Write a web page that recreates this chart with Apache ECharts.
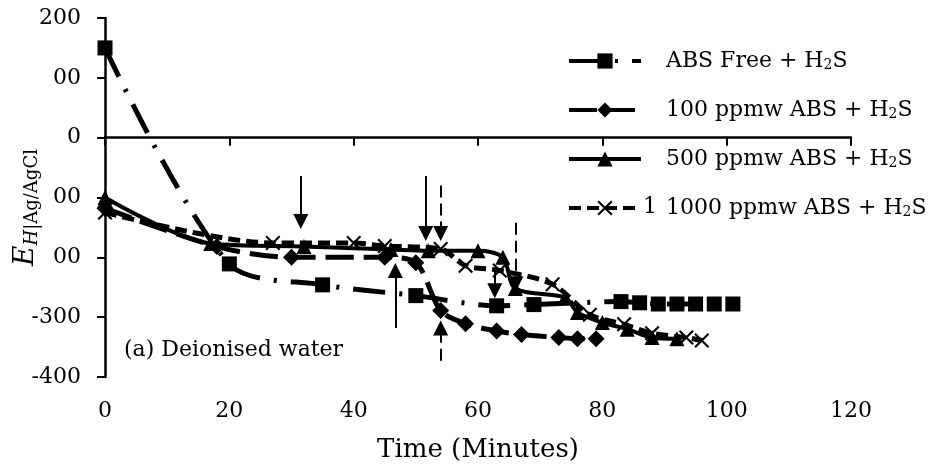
<!DOCTYPE html>
<html>
<head>
<meta charset="utf-8">
<script src="https://cdn.jsdelivr.net/npm/echarts@6/dist/echarts.min.js"></script>
<style>
html, body { margin: 0; padding: 0; background: #fff; }
#show { width: 940px; height: 472px; }
</style>
</head>
<body>
<div id="show"></div>
<script>
var myChart = echarts.init(document.getElementById("show"));

// ABS free
var freeTime = [0, 20, 35, 50, 63, 69, 83, 86, 89, 92, 95, 98, 101];
var freeE = [150, -211, -246, -264, -281, -279, -274, -276, -278, -278, -278, -278, -278];

// 100 ppmw
var p100Time = [0, 18, 30, 45, 50, 54, 58, 63, 67, 73, 76, 79];
var p100E = [-118, -182, -200, -200, -209, -289, -311, -323, -329, -334, -336, -336];

// 500 ppmw
var p500Time = [0, 17, 32, 46, 52, 60, 64, 66, 74, 76, 80, 84, 88, 92];
var p500E = [-100, -177, -182, -187, -189, -189, -200, -252, -267, -292, -309, -320, -334, -336];

// 1000 ppmw
var p1000Time = [0, 27, 40, 45, 54, 58, 63.5, 72, 78, 83.5, 88, 93.5, 96];
var p1000E = [-125, -176, -176, -181, -186, -214, -222, -245, -296, -312, -327, -334, -339];

// arrows drawn on the chart (time, start, end of head, dashed?)
var arrowTime = [31.5, 51.6, 54, 46.7, 54, 62.7, 66.1];
var arrowFrom = [-64, -64, -80, -318, -373, -217, -142];
var arrowTo = [-140, -160, -160, -222, -318, -256, -244];
var arrowDashed = [false, false, true, false, true, false, true];

var seriesNames = ['ABS Free + H2S', '100 ppmw ABS + H2S', '500 ppmw ABS + H2S', '1000 ppmw ABS + H2S'];

var font = 'DejaVu Serif';
var crossPath = 'path://M0,1L1,0L5,4L9,0L10,1L6,5L10,9L9,10L5,6L1,10L0,9L4,5Z';

function pairs(t, v) {
    return t.map(function (x, i) { return [x, v[i]]; });
}

var arrowLines = arrowTime.map(function (t, i) {
    return [
        { coord: [t, arrowFrom[i]], lineStyle: { type: arrowDashed[i] ? [12, 6] : 'solid' } },
        { coord: [t, arrowTo[i]] }
    ];
});

myChart.setOption(option = {
    animation: false,
    backgroundColor: '#fff',
    title: {
        text: '(a) Deionised water',
        left: 119,
        top: 334,
        textStyle: { fontFamily: font, fontSize: 22, fontWeight: 'normal', color: '#000' }
    },
    legend: {
        orient: 'vertical',
        left: 567,
        top: 50,
        padding: 0,
        itemWidth: 72,
        itemHeight: 19,
        itemGap: 27,
        data: seriesNames,
        lineStyle: { width: 4 },
        formatter: function (name) {
            var parts = name.split('H2S');
            return '{t|' + parts[0] + 'H}{sub|2}{t|S}';
        },
        textStyle: {
            color: '#000',
            padding: [0, 0, 0, 20],
            rich: {
                t: { fontFamily: font, fontSize: 22, color: '#000', lineHeight: 22 },
                sub: { fontFamily: font, fontSize: 14, color: '#000', lineHeight: 14, verticalAlign: 'bottom' }
            }
        }
    },
    graphic: [
        {
            type: 'text',
            left: 643,
            top: 196,
            style: { text: '1', font: '22px "DejaVu Serif"', fill: '#000' }
        }
    ],
    grid: { left: 105, right: 89, top: 18, bottom: 95, outerBoundsMode: 'none' },
    xAxis: {
        type: 'value',
        min: 0,
        max: 120,
        interval: 20,
        name: 'Time (Minutes)',
        nameLocation: 'middle',
        nameGap: 60,
        nameMoveOverlap: false,
        nameTextStyle: { fontFamily: font, fontSize: 26, color: '#000' },
        splitLine: { show: false },
        axisLine: { lineStyle: { color: '#000', width: 2.5 } },
        axisTick: { length: 8, lineStyle: { color: '#000', width: 2 } },
        axisLabel: { fontFamily: font, fontSize: 22, color: '#000', margin: 23 }
    },
    yAxis: {
        type: 'value',
        min: -400,
        max: 200,
        interval: 100,
        name: '{e|E}{h|H}{s||Ag/AgCl}',
        nameLocation: 'middle',
        nameGap: 64,
        nameMoveOverlap: false,
        nameTextStyle: {
            color: '#000',
            padding: [0, 20, 0, 0],
            rich: {
                e: { fontFamily: font, fontSize: 28, fontStyle: 'italic', color: '#000', lineHeight: 30 },
                h: { fontFamily: font, fontSize: 18, fontStyle: 'italic', color: '#000', verticalAlign: 'bottom', lineHeight: 18 },
                s: { fontFamily: font, fontSize: 18, color: '#000', verticalAlign: 'bottom', lineHeight: 18 }
            }
        },
        splitLine: { show: false },
        axisLine: { show: true, lineStyle: { color: '#000', width: 2.5 } },
        axisTick: { show: true, length: 8, lineStyle: { color: '#000', width: 2 } },
        axisLabel: {
            fontFamily: font,
            fontSize: 22,
            color: '#000',
            margin: 24,
            formatter: function (v) {
                return (v === 100 || v === -100 || v === -200) ? '00' : String(v);
            }
        }
    },
    series: [
        {
            name: seriesNames[0],
            type: 'line',
            data: pairs(freeTime, freeE),
            symbol: 'rect',
            symbolSize: 15,
            smooth: 0.3,
            lineStyle: { color: '#000', width: 5, type: [32, 14, 3, 14] },
            itemStyle: { color: '#000' },
            markLine: {
                silent: true,
                symbol: ['none', 'triangle'],
                symbolSize: 15,
                label: { show: false },
                lineStyle: { color: '#000', width: 2 },
                data: arrowLines
            }
        },
        {
            name: seriesNames[1],
            type: 'line',
            data: pairs(p100Time, p100E),
            symbol: 'diamond',
            symbolSize: 17,
            smooth: 0.3,
            lineStyle: { color: '#000', width: 5, type: [28, 10] },
            itemStyle: { color: '#000' }
        },
        {
            name: seriesNames[2],
            type: 'line',
            data: pairs(p500Time, p500E),
            symbol: 'triangle',
            symbolSize: 15,
            smooth: 0.3,
            lineStyle: { color: '#000', width: 4 },
            itemStyle: { color: '#000' }
        },
        {
            name: seriesNames[3],
            type: 'line',
            data: pairs(p1000Time, p1000E),
            symbol: crossPath,
            symbolSize: 15,
            smooth: 0.3,
            lineStyle: { color: '#000', width: 5, type: [12, 6] },
            itemStyle: { color: '#000' }
        }
    ]
});
</script>
</body>
</html>
